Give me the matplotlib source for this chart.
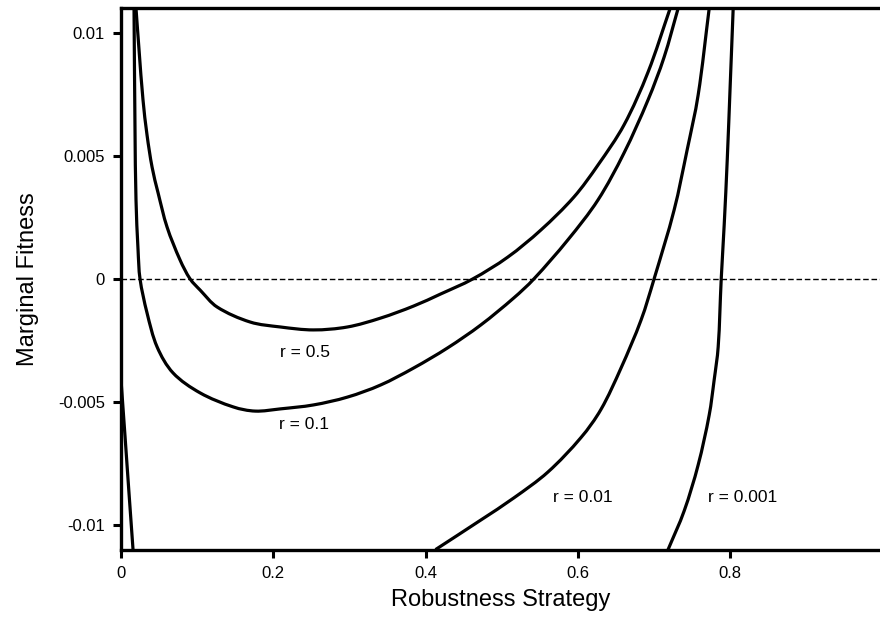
import matplotlib
matplotlib.use("Agg")
import numpy as np
import matplotlib.pyplot as plt
from matplotlib.path import Path
from matplotlib.patches import PathPatch

plt.rcParams['font.family'] = ['Liberation Sans', 'DejaVu Sans']

# ---- data ----
r05_x = [0.0197, 0.0237, 0.0289, 0.0342, 0.0408, 0.0487, 0.0605, 0.0776, 0.0908, 0.1039,
         0.1263, 0.1697, 0.2092, 0.2526, 0.2974, 0.3408, 0.3842, 0.4197, 0.4618, 0.5079,
         0.5513, 0.5947, 0.6263, 0.6605, 0.6921, 0.7211]
r05_y = [0.0110, 0.00931, 0.00728, 0.00585, 0.00455, 0.00350, 0.00211, 0.00077, 0.0,
         -0.00045, -0.00114, -0.00175, -0.00195, -0.00207, -0.00195, -0.00159, -0.00110,
         -0.00061, 0.0, 0.00089, 0.00199, 0.00333, 0.00463, 0.00626, 0.00841, 0.0110]

r01_x = [0.0171, 0.0184, 0.0197, 0.0224, 0.0250, 0.0342, 0.0474, 0.0684, 0.1039, 0.1474,
         0.1763, 0.2092, 0.2526, 0.2974, 0.3408, 0.3842, 0.4289, 0.4724, 0.5158, 0.5421,
         0.5868, 0.6263, 0.6605, 0.6921, 0.7132, 0.7316]
r01_y = [0.0110, 0.00606, 0.00321, 0.00118, 0.0, -0.00138, -0.00276, -0.00382, -0.00463,
         -0.00520, -0.00537, -0.00528, -0.00512, -0.00480, -0.00431, -0.00362, -0.00280,
         -0.00187, -0.00077, 0.0, 0.00159, 0.00321, 0.00512, 0.00728, 0.00902, 0.0110]

r001_left_x = [0.0, 0.0053, 0.0105, 0.0158]
r001_left_y = [-0.0041, -0.0064, -0.0087, -0.0110]
r001_x = [0.413, 0.4724, 0.5158, 0.5605, 0.6039, 0.6303, 0.6566, 0.6829, 0.7000, 0.7263,
          0.7434, 0.7579, 0.7724]
r001_y = [-0.0110, -0.00980, -0.00890, -0.00785, -0.00645, -0.00530, -0.00362, -0.00167,
          0.0, 0.00280, 0.00524, 0.00748, 0.0110]

r0001_x = [0.7184, 0.7395, 0.7579, 0.7724, 0.7789, 0.7842, 0.7882, 0.7921, 0.7961, 0.8000, 0.8039]
r0001_y = [-0.0110, -0.00943, -0.00756, -0.00553, -0.00411, -0.00276, 0.0, 0.00220, 0.00484,
           0.00789, 0.0110]

labels = ['r = 0.5', 'r = 0.1', 'r = 0.01', 'r = 0.001']
label_x = [0.241, 0.240, 0.607, 0.816]
label_y = [-0.00297, -0.00593, -0.0089, -0.0089]

xticks = [0, 0.2, 0.4, 0.6, 0.8]
xticklabels = ['0', '0.2', '0.4', '0.6', '0.8']
yticks = [0.01, 0.005, 0, -0.005, -0.01]
yticklabels = ['0.01', '0.005', '0', '-0.005', '-0.01']


def smooth_path(xs, ys, sx=760.0, sy=24600.0):
    """Smooth cubic Bezier path passing through the given data points."""
    P = np.column_stack([np.asarray(xs) * sx, np.asarray(ys) * sy])
    n = len(P)
    d = np.linalg.norm(np.diff(P, axis=0), axis=1)
    t = np.concatenate([[0], np.cumsum(d)])
    m = np.zeros_like(P)
    m[0] = (P[1] - P[0]) / d[0]
    m[-1] = (P[-1] - P[-2]) / d[-1]
    for i in range(1, n - 1):
        m[i] = (P[i + 1] - P[i - 1]) / (t[i + 1] - t[i - 1])
    verts = [P[0]]
    codes = [Path.MOVETO]
    for i in range(n - 1):
        h = d[i]
        verts += [P[i] + m[i] * h / 3, P[i + 1] - m[i + 1] * h / 3, P[i + 1]]
        codes += [Path.CURVE4] * 3
    V = np.array(verts)
    V[:, 0] /= sx
    V[:, 1] /= sy
    return Path(V, codes)


# ---- figure ----
fig = plt.figure(figsize=(8.8, 6.17), dpi=100)
ax = fig.add_axes([121 / 880, 1 - 549.6 / 617, 759 / 880, (549.6 - 8.4) / 617])

lw = 2.3
ax.axhline(0, color='black', lw=1.0, dashes=(4, 2), zorder=1)
for xs, ys in [(r05_x, r05_y), (r01_x, r01_y), (r001_x, r001_y), (r0001_x, r0001_y)]:
    ax.add_patch(PathPatch(smooth_path(xs, ys), fill=False, edgecolor='black',
                           lw=lw, zorder=2))
ax.plot(r001_left_x, r001_left_y, color='black', lw=lw, zorder=2)

for t, x, y in zip(labels, label_x, label_y):
    ax.text(x, y, t, fontsize=12.5, ha='center', va='center')

ax.set_xlim(0, 0.9967)
ax.set_ylim(-0.011, 0.011)
ax.set_xticks(xticks)
ax.set_xticklabels(xticklabels)
ax.set_yticks(yticks)
ax.set_yticklabels(yticklabels)
ax.tick_params(direction='out', length=5.5, width=2.2, labelsize=12, pad=6)

for side in ['left', 'bottom', 'top']:
    ax.spines[side].set_linewidth(2.4)
ax.spines['right'].set_visible(False)

ax.set_xlabel('Robustness Strategy', fontsize=17, labelpad=6)
ax.set_ylabel('Marginal Fitness', fontsize=17, labelpad=14)

fig.savefig('out.png', dpi=100)
